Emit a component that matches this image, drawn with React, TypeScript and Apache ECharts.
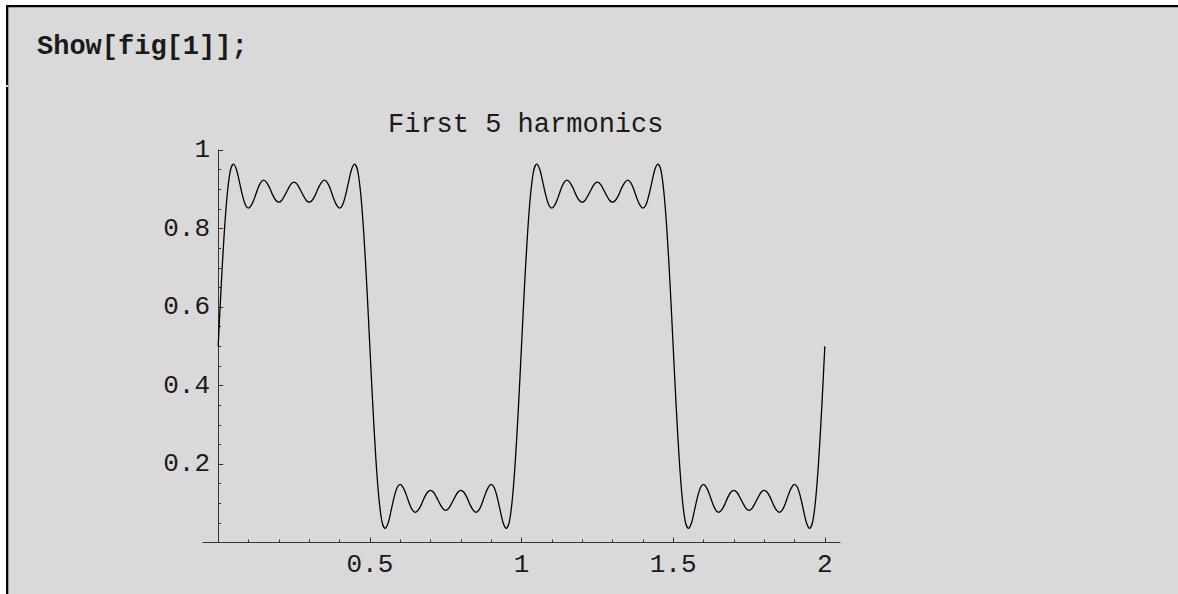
import React, { useEffect, useRef } from "react";
import * as echarts from "echarts";

const headerText = "Show[fig[1]];";
const chartTitle = "First 5 harmonics";

// sample spacing along x (0 .. 2)
const sampleStep = 0.01;

// curve values, one per sample from x = 0 to x = 2
const curveValues = [
  0.500, 0.654, 0.788, 0.888, 0.947, 0.964, 0.951, 0.919, 0.885, 0.860,
  0.852, 0.860, 0.878, 0.900, 0.917, 0.923, 0.917, 0.903, 0.885, 0.872,
  0.867, 0.872, 0.885, 0.900, 0.913, 0.918, 0.913, 0.900, 0.885, 0.872,
  0.867, 0.872, 0.885, 0.903, 0.917, 0.923, 0.917, 0.900, 0.878, 0.860,
  0.852, 0.860, 0.885, 0.919, 0.951, 0.964, 0.947, 0.888, 0.788, 0.654,
  0.500, 0.346, 0.212, 0.112, 0.053, 0.036, 0.049, 0.081, 0.115, 0.140,
  0.148, 0.140, 0.122, 0.100, 0.083, 0.077, 0.083, 0.097, 0.115, 0.128,
  0.133, 0.128, 0.115, 0.100, 0.087, 0.082, 0.087, 0.100, 0.115, 0.128,
  0.133, 0.128, 0.115, 0.097, 0.083, 0.077, 0.083, 0.100, 0.122, 0.140,
  0.148, 0.140, 0.115, 0.081, 0.049, 0.036, 0.053, 0.112, 0.212, 0.346,
  0.500, 0.654, 0.788, 0.888, 0.947, 0.964, 0.951, 0.919, 0.885, 0.860,
  0.852, 0.860, 0.878, 0.900, 0.917, 0.923, 0.917, 0.903, 0.885, 0.872,
  0.867, 0.872, 0.885, 0.900, 0.913, 0.918, 0.913, 0.900, 0.885, 0.872,
  0.867, 0.872, 0.885, 0.903, 0.917, 0.923, 0.917, 0.900, 0.878, 0.860,
  0.852, 0.860, 0.885, 0.919, 0.951, 0.964, 0.947, 0.888, 0.788, 0.654,
  0.500, 0.346, 0.212, 0.112, 0.053, 0.036, 0.049, 0.081, 0.115, 0.140,
  0.148, 0.140, 0.122, 0.100, 0.083, 0.077, 0.083, 0.097, 0.115, 0.128,
  0.133, 0.128, 0.115, 0.100, 0.087, 0.082, 0.087, 0.100, 0.115, 0.128,
  0.133, 0.128, 0.115, 0.097, 0.083, 0.077, 0.083, 0.100, 0.122, 0.140,
  0.148, 0.140, 0.115, 0.081, 0.049, 0.036, 0.053, 0.112, 0.212, 0.346,
  0.500,
];

const xMajorTicks = [0.5, 1, 1.5, 2];
const xMinorTicks = [0.1, 0.2, 0.3, 0.4, 0.6, 0.7, 0.8, 0.9, 1.1, 1.2, 1.3, 1.4, 1.6, 1.7, 1.8, 1.9];
const yMin = 0;
const yMax = 1;
const yInterval = 0.2;
const xMin = -0.05;
const xMax = 2.05;

const MONO = "'Liberation Mono', 'Courier New', monospace";
const AXIS = "#333";
const BG = "#d9d9d9";
const TEXT = "#1a1a1a";

export default function App() {
  const ref = useRef<HTMLDivElement>(null);

  useEffect(() => {
    if (!ref.current) return;
    const chart = echarts.init(ref.current, null, { renderer: "svg" });
    const data = curveValues.map((v, i) => [Number((i * sampleStep).toFixed(2)), v]);

    chart.setOption({
      animation: false,
      backgroundColor: BG,
      title: {
        text: chartTitle,
        left: 383,
        top: 106,
        textStyle: { fontFamily: MONO, fontSize: 27, fontWeight: "normal", color: TEXT },
      },
      graphic: [
        { type: "rect", shape: { x: 0, y: 0, width: 1178, height: 5 }, style: { fill: "#fff" } },
        { type: "rect", shape: { x: 0, y: 0, width: 6, height: 594 }, style: { fill: "#fff" } },
        { type: "rect", shape: { x: 6, y: 5, width: 1172, height: 2.3 }, style: { fill: "#000" } },
        { type: "rect", shape: { x: 6, y: 5, width: 2.3, height: 589 }, style: { fill: "#000" } },
        { type: "rect", shape: { x: 6, y: 85, width: 2.3, height: 2 }, style: { fill: BG } },
        {
          type: "text",
          x: 37,
          y: 47,
          style: {
            text: headerText,
            font: `bold 27px ${MONO}`,
            fill: TEXT,
            textAlign: "left",
            textVerticalAlign: "middle",
          },
        },
      ],
      grid: { left: 203, right: 338, top: 150, bottom: 51.5, containLabel: false },
      xAxis: [
        {
          type: "value",
          min: xMin,
          max: xMax,
          position: "bottom",
          splitLine: { show: false },
          axisLine: { show: true, onZero: true, lineStyle: { color: AXIS, width: 1 } },
          axisTick: { show: true, inside: true, length: 5, customValues: xMajorTicks, lineStyle: { color: AXIS } },
          axisLabel: {
            customValues: xMajorTicks,
            margin: 9,
            fontFamily: MONO,
            fontSize: 26,
            color: TEXT,
          },
        },
        {
          type: "value",
          min: xMin,
          max: xMax,
          position: "bottom",
          splitLine: { show: false },
          axisLine: { show: false },
          axisTick: { show: true, inside: true, length: 3, customValues: xMinorTicks, lineStyle: { color: AXIS } },
          axisLabel: { show: false },
        },
      ],
      yAxis: {
        type: "value",
        min: yMin,
        max: yMax,
        interval: yInterval,
        splitLine: { show: false },
        axisLine: { show: true, onZero: true, lineStyle: { color: AXIS, width: 1 } },
        axisTick: { show: true, inside: true, length: 5, lineStyle: { color: AXIS } },
        minorTick: { show: true, splitNumber: 4, length: 3, lineStyle: { color: AXIS } },
        axisLabel: {
          showMinLabel: false,
          margin: -7,
          fontFamily: MONO,
          fontSize: 26,
          color: TEXT,
        },
      },
      series: [
        {
          type: "line",
          xAxisIndex: 0,
          yAxisIndex: 0,
          data,
          showSymbol: false,
          smooth: 0.3,
          lineStyle: { color: "#000", width: 1.3 },
        },
      ],
    });

    return () => chart.dispose();
  }, []);

  return (
    <div style={{ position: "fixed", left: 0, top: 0, width: 1178, height: 594, background: "#fff" }}>
      <div ref={ref} style={{ width: 1178, height: 594 }} />
    </div>
  );
}
